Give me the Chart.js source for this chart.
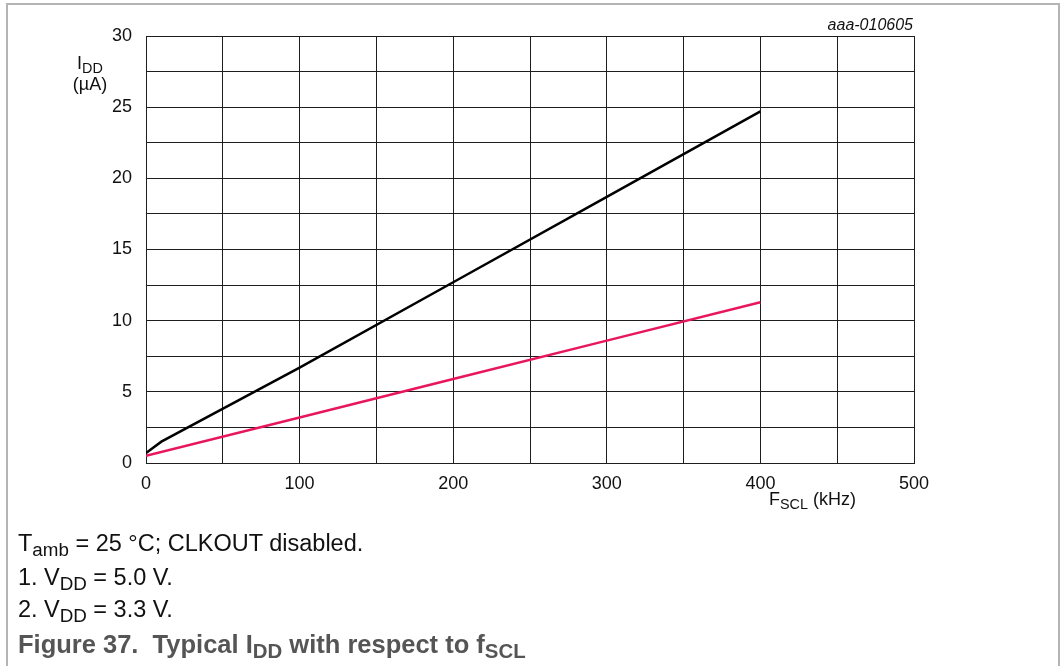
<!DOCTYPE html>
<html>
<head>
<meta charset="utf-8">
<script src="https://cdn.jsdelivr.net/npm/chart.js@4/dist/chart.umd.min.js"></script>
<style>
  html, body { margin:0; padding:0; background:#fff; }
  body { width:1061px; height:666px; position:relative; overflow:hidden; font-family:"Liberation Sans", Arial, sans-serif; color:#111; }
  #frame { position:absolute; left:6px; top:3px; width:1050px; height:700px; border:2px solid #b4b4b4; border-bottom:none; }
  #wrap { position:absolute; left:0; top:0; width:1061px; height:666px; }
  .t { position:absolute; white-space:nowrap; line-height:1; }
  sub { font-size:0.8em; vertical-align:-0.25em; line-height:0; }
  .n { display:inline-block; width:26px; }
</style>
</head>
<body>
<div id="frame"></div>
<div id="wrap"><canvas id="c" width="1061" height="666"></canvas></div>
<div class="t" style="left:50px; width:80px; text-align:center; top:54px; font-size:18px;">I<sub>DD</sub></div>
<div class="t" style="left:50px; width:80px; text-align:center; top:75px; font-size:18px;">(µA)</div>
<div class="t" style="right:148px; top:17px; font-size:16px; font-style:italic;">aaa-010605</div>
<div class="t" style="left:769px; top:490px; font-size:18px;">F<sub>SCL</sub> (kHz)</div>
<div class="t" style="left:18px; top:532px; font-size:23.5px;">T<sub>amb</sub> = 25 °C; CLKOUT disabled.</div>
<div class="t" style="left:18px; top:566px; font-size:23.5px;"><span class="n">1.</span>V<sub>DD</sub> = 5.0 V.</div>
<div class="t" style="left:18px; top:598px; font-size:23.5px;"><span class="n">2.</span>V<sub>DD</sub> = 3.3 V.</div>
<div class="t" style="left:18px; top:632px; font-size:25.5px; font-weight:bold; color:#555;">Figure 37.&nbsp;&nbsp;Typical I<sub>DD</sub> with respect to f<sub>SCL</sub></div>
<script>
// Data
const fsclV50 = [0, 10, 100, 200, 300, 400];          // kHz
const iddV50  = [0.7, 1.5, 6.7, 12.7, 18.7, 24.7];     // µA, VDD = 5.0 V
const fsclV33 = [0, 100, 200, 300, 400];               // kHz
const iddV33  = [0.5, 3.2, 5.9, 8.6, 11.3];            // µA, VDD = 3.3 V
const xTickLabels = [0, 100, 200, 300, 400, 500];
const yTickLabels = [0, 5, 10, 15, 20, 25, 30];

const toXY = (xs, ys) => xs.map((x, i) => ({x: x, y: ys[i]}));

const gridCol = '#1e1e1e';
new Chart(document.getElementById('c'), {
  type: 'line',
  data: {
    datasets: [
      { label: 'VDD = 5.0 V', data: toXY(fsclV50, iddV50), borderColor: '#000000', borderWidth: 2.5, pointRadius: 0, tension: 0, fill: false },
      { label: 'VDD = 3.3 V', data: toXY(fsclV33, iddV33), borderColor: '#e8175d', borderWidth: 2.5, pointRadius: 0, tension: 0, fill: false }
    ]
  },
  options: {
    responsive: false,
    animation: false,
    events: [],
    layout: { padding: { left: 0, top: 36, right: 147, bottom: 0 } },
    plugins: { legend: { display: false }, tooltip: { enabled: false } },
    scales: {
      x: {
        type: 'linear', min: 0, max: 500,
        ticks: {
          stepSize: 50, autoSkip: false, maxRotation: 0, padding: 10,
          color: '#111', font: { family: 'Liberation Sans', size: 18 },
          callback: v => xTickLabels.includes(v) ? String(v) : ''
        },
        grid: { color: gridCol, lineWidth: 1, tickLength: 0, drawTicks: false },
        border: { color: gridCol, width: 1 },
        afterFit: s => { s.height = 666 - 463; }
      },
      y: {
        type: 'linear', min: 0, max: 30,
        ticks: {
          stepSize: 2.5, autoSkip: false, padding: 14,
          color: '#111', font: { family: 'Liberation Sans', size: 18 },
          callback: v => yTickLabels.includes(v) ? String(v) : ''
        },
        grid: { color: gridCol, lineWidth: 1, tickLength: 0, drawTicks: false },
        border: { color: gridCol, width: 1 },
        afterFit: s => { s.width = 146; }
      }
    }
  }
});
</script>
</body>
</html>
